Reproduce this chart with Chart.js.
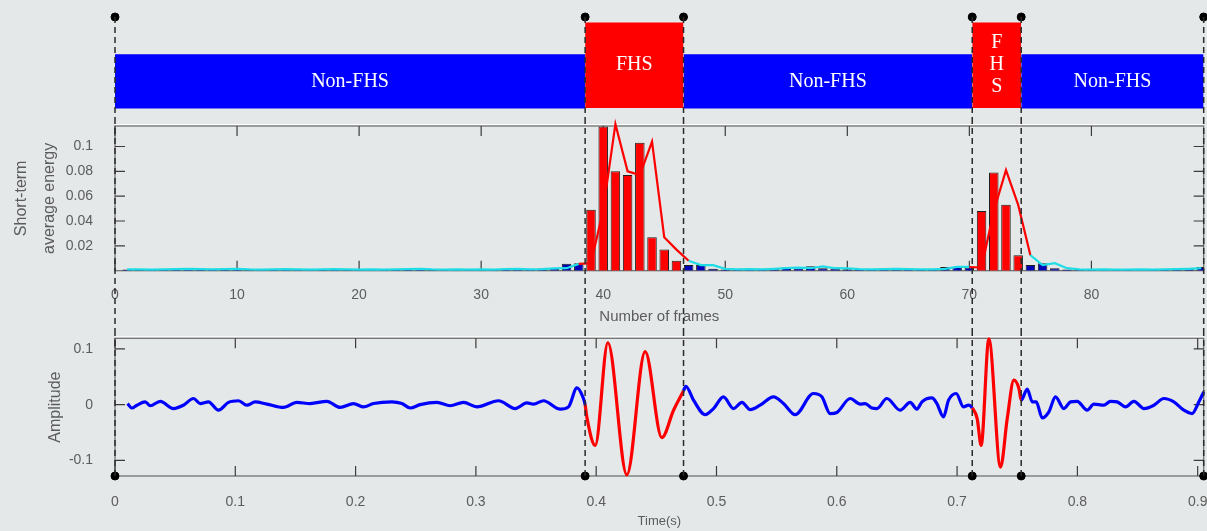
<!DOCTYPE html>
<html>
<head>
<meta charset="utf-8">
<title>FHS segmentation</title>
<script src="https://cdn.jsdelivr.net/npm/chart.js@4.4.1/dist/chart.umd.min.js"></script>
<style>
  html, body { margin: 0; padding: 0; background: #e4e8e8; overflow: hidden; }
  #wrap { position: relative; width: 1207px; height: 531px; overflow: hidden; }
  canvas { position: absolute; left: 0; }
  #segChart { top: 0; }
  #energyChart { top: 118px; }
  #waveChart { top: 330px; }
</style>
</head>
<body>
<div id="wrap">
  <canvas id="segChart" width="1230" height="118"></canvas>
  <canvas id="energyChart" width="1230" height="212"></canvas>
  <canvas id="waveChart" width="1230" height="201"></canvas>
</div>
<script>
// segment boundaries on the time axis (s) and their labels
var boundaries = [0, 0.3908, 0.4726, 0.7126, 0.7533, 0.905];
var segLabels = ["Non-FHS", "FHS", "Non-FHS", ["F", "H", "S"], "Non-FHS"];
var segIsFhs = [false, true, false, true, false];
var nonBand = [0.08, 0.54];   // band heights in the top strip
var fhsBand = [0.085, 0.81];
var dotLevel = 0.856;

// short-term average energy, frames 1..89
var energy = [
  0.001, 0.0008, 0.001, 0.0012, 0.0015, 0.0012, 0.001, 0.0013, 0.0015, 0.001,
  0.0008, 0.001, 0.0012, 0.001, 0.0008, 0.001, 0.0012, 0.001, 0.0009, 0.001,
  0.0008, 0.001, 0.0012, 0.0015, 0.001, 0.0008, 0.001, 0.0009, 0.001, 0.0008,
  0.0012, 0.0015, 0.001, 0.0012, 0.0018, 0.002, 0.0055, 0.006,
  0.049, 0.116, 0.080, 0.077, 0.103, 0.027, 0.017, 0.008,
  0.0045, 0.0045, 0.0015, 0.001, 0.0012, 0.001, 0.0015, 0.002, 0.0025, 0.002,
  0.0035, 0.002, 0.0018, 0.0012, 0.001, 0.0012, 0.0015, 0.0012, 0.001, 0.001,
  0.0015, 0.003, 0.003, 0.0025,
  0.048, 0.079, 0.053, 0.0125,
  0.0045, 0.006, 0.002, 0.001, 0.0008, 0.001, 0.0008, 0.0008, 0.001, 0.0008,
  0.001, 0.0012, 0.0015, 0.002, 0.003
];
// energy envelope line, frames 1..89
var envelope = [
  0.001, 0.001, 0.0008, 0.001, 0.0012, 0.0015, 0.0012, 0.001, 0.0013, 0.0015,
  0.001, 0.0008, 0.001, 0.0012, 0.001, 0.0008, 0.001, 0.0012, 0.001, 0.0009,
  0.001, 0.0008, 0.001, 0.0012, 0.0015, 0.001, 0.0008, 0.001, 0.0009, 0.001,
  0.0008, 0.0012, 0.0015, 0.001, 0.0012, 0.0018, 0.002, 0.0055, 0.006, 0.049,
  0.118, 0.080, 0.077, 0.104, 0.027, 0.017, 0.008, 0.0045, 0.0045, 0.0015,
  0.001, 0.0012, 0.001, 0.0015, 0.002, 0.0025, 0.002, 0.0035, 0.002, 0.0018,
  0.0012, 0.001, 0.0012, 0.0015, 0.0012, 0.001, 0.001, 0.0015, 0.003, 0.003,
  0.0025, 0.048, 0.081, 0.053, 0.0125, 0.0045, 0.006, 0.002, 0.001, 0.0008,
  0.001, 0.0008, 0.0008, 0.001, 0.0008, 0.001, 0.0012, 0.0015, 0.002
];
var fhsFrames = [[39, 46], [71, 74]];
var frameTicks = [0, 10, 20, 30, 40, 50, 60, 70, 80];
var energyTicks = [0.02, 0.04, 0.06, 0.08, 0.1];
var frameMax = 89.2, energyMax = 0.1165;

// waveform samples (time s, amplitude)
var waveTime = [
  0.0104, 0.0140, 0.0182, 0.0251, 0.0293, 0.0376, 0.0486, 0.0569, 0.0653, 0.0708,
  0.0777, 0.0860, 0.0943, 0.1027, 0.1096, 0.1165, 0.1263, 0.1401, 0.1512, 0.1623,
  0.1761, 0.1872, 0.1983, 0.2066, 0.2149, 0.2302, 0.2385, 0.2454, 0.2537, 0.2676,
  0.2786, 0.2897, 0.3008, 0.3188, 0.3327, 0.3424, 0.3479, 0.3562, 0.3701, 0.3770,
  0.3840, 0.3894, 0.3908,
  0.3922, 0.3992, 0.4097, 0.4255, 0.4407, 0.4546, 0.4643, 0.4712, 0.4726,
  0.4745, 0.4809, 0.4906, 0.4975, 0.5058, 0.5141, 0.5211, 0.5280, 0.5363, 0.5474,
  0.5557, 0.5654, 0.5806, 0.5876, 0.5945, 0.6001, 0.6111, 0.6194, 0.6236, 0.6292,
  0.6333, 0.6416, 0.6527, 0.6610, 0.6666, 0.6708, 0.6791, 0.6832, 0.6887, 0.6929,
  0.6993, 0.7053, 0.7095, 0.7126,
  0.7167, 0.7200, 0.7264, 0.7361, 0.7417, 0.7472, 0.7514, 0.7533,
  0.7583, 0.7625, 0.7658, 0.7708, 0.7763, 0.7818, 0.7888, 0.7943, 0.7998, 0.8082,
  0.8137, 0.8220, 0.8275, 0.8331, 0.8400, 0.8470, 0.8553, 0.8636, 0.8719, 0.8802,
  0.8885, 0.8954, 0.9010, 0.9050
];
var waveAmp = [
  0.002, -0.006, -0.001, 0.005, -0.002, 0.006, -0.007, -0.001, 0.011, 0.002,
  0.005, -0.010, 0.004, 0.007, -0.001, 0.005, 0.001, -0.005, 0.004, 0.002,
  0.006, -0.005, 0.002, -0.004, 0.002, 0.005, 0.002, -0.006, 0.000, 0.004,
  -0.002, 0.004, -0.004, 0.007, -0.007, 0.003, 0.001, 0.007, -0.008, -0.004,
  0.030, 0.011, 0.000,
  -0.022, -0.073, 0.111, -0.126, 0.095, -0.059, -0.010, 0.019, 0.025,
  0.033, 0.008, -0.018, -0.007, 0.014, -0.007, 0.004, -0.009, -0.001, 0.014,
  0.002, -0.018, 0.020, 0.014, -0.016, -0.014, 0.011, 0.001, 0.002, -0.006,
  -0.007, 0.011, -0.010, 0.004, -0.008, 0.005, 0.012, 0.002, -0.022, 0.008,
  0.020, -0.004, -0.001, -0.006,
  -0.025, -0.073, 0.118, -0.112, -0.025, 0.044, 0.029, 0.008,
  0.028, 0.005, 0.005, -0.024, -0.013, 0.014, -0.007, 0.005, 0.006, -0.010,
  0.001, -0.001, 0.006, 0.005, -0.004, 0.006, -0.007, -0.001, 0.011, 0.005,
  -0.010, -0.016, 0.005, 0.023
];
var timeTicks = [0, 0.1, 0.2, 0.3, 0.4, 0.5, 0.6, 0.7, 0.8, 0.9];
var ampTicks = [-0.1, 0, 0.1];
var timeMax = 0.905, ampMin = -0.128, ampMax = 0.119;

var RED = "#ff0000", BLUE = "#0000ff", NAVY = "#0000b4", CYAN = "#1fdde6";
var tickFont = { family: "Liberation Sans", size: 14 };
var tickColor = "#5c5c5c";

function inFhsTime(t) {
  for (var i = 0; i < segIsFhs.length; i++) {
    if (segIsFhs[i] && t >= boundaries[i] && t < boundaries[i + 1]) return true;
  }
  return false;
}
function isFhsFrame(f) {
  return fhsFrames.some(function (r) { return f >= r[0] && f <= r[1]; });
}
function fmt(v) { return String(+v.toFixed(3)); }
function setTicks(list) {
  return function (scale) { scale.ticks = list.map(function (v) { return { value: v }; }); };
}
// fixed axis width, no extra room for the end labels
function fixWidth(scale) {
  scale.width = 115;
  scale.paddingTop = 0;
  scale.paddingBottom = 0;
}

// dashed boundary lines, drawn over the data
function boundsPlugin(scaleId, topFn, bottomFn) {
  return {
    id: "bounds",
    afterDatasetsDraw: function (chart) {
      var ctx = chart.ctx, sc = chart.scales[scaleId];
      var top = topFn(chart), bottom = bottomFn(chart);
      ctx.save();
      ctx.strokeStyle = "#2a2a2a";
      ctx.lineWidth = 1.5;
      ctx.setLineDash([6, 4]);
      boundaries.forEach(function (b) {
        var x = sc.getPixelForValue(b);
        ctx.beginPath();
        ctx.moveTo(x, top);
        ctx.lineTo(x, bottom);
        ctx.stroke();
      });
      ctx.restore();
    }
  };
}

// box round the plot with inward ticks, matlab style
var framePlugin = {
  id: "frame",
  beforeDatasetsDraw: function (chart) {
    var a = chart.chartArea, ctx = chart.ctx;
    var xs = chart.scales.x, ys = chart.scales.y;
    ctx.save();
    ctx.strokeStyle = "#ffffff";
    ctx.lineWidth = 1;
    ctx.beginPath();
    ctx.moveTo(a.left, a.top - 1.5);
    ctx.lineTo(a.right, a.top - 1.5);
    ctx.stroke();
    ctx.strokeStyle = "#6a6a6a";
    ctx.lineWidth = 1.2;
    ctx.strokeRect(a.left, a.top, a.right - a.left, a.bottom - a.top);
    ctx.strokeStyle = "#3c3c3c";
    ctx.beginPath();
    xs.ticks.forEach(function (t) {
      var x = xs.getPixelForValue(t.value);
      ctx.moveTo(x, a.top); ctx.lineTo(x, a.top + 10);
      ctx.moveTo(x, a.bottom); ctx.lineTo(x, a.bottom - 10);
    });
    ys.ticks.forEach(function (t) {
      var y = ys.getPixelForValue(t.value);
      ctx.moveTo(a.left, y); ctx.lineTo(a.left + 10, y);
      ctx.moveTo(a.right, y); ctx.lineTo(a.right - 10, y);
    });
    ctx.stroke();
    ctx.restore();
  }
};

var segLabelPlugin = {
  id: "segLabels",
  afterDatasetsDraw: function (chart) {
    var xs = chart.scales.x, ys = chart.scales.y, ctx = chart.ctx;
    ctx.save();
    ctx.fillStyle = "#ffffff";
    ctx.font = '20px "Liberation Serif"';
    ctx.textAlign = "center";
    ctx.textBaseline = "middle";
    segLabels.forEach(function (lab, i) {
      var band = segIsFhs[i] ? fhsBand : nonBand;
      var x = xs.getPixelForValue((boundaries[i] + boundaries[i + 1]) / 2);
      var y = ys.getPixelForValue((band[0] + band[1]) / 2);
      var lines = Array.isArray(lab) ? lab : [lab];
      lines.forEach(function (s, k) {
        ctx.fillText(s, x, y + (k - (lines.length - 1) / 2) * 22);
      });
    });
    ctx.restore();
  }
};

var dotStyle = {
  type: "line", showLine: false, pointRadius: 4, pointBackgroundColor: "#000",
  pointBorderColor: "#000", clip: false, order: 0
};

// top strip: FHS / Non-FHS segments
var segDatasets = segLabels.map(function (lab, i) {
  var band = segIsFhs[i] ? fhsBand : nonBand;
  return {
    type: "line",
    data: [{ x: boundaries[i], y: band[1] }, { x: boundaries[i + 1], y: band[1] }],
    fill: { value: band[0] },
    backgroundColor: segIsFhs[i] ? RED : BLUE,
    borderWidth: 0,
    pointRadius: 0,
    order: segIsFhs[i] ? 1 : 2
  };
});
segDatasets.push(Object.assign({
  data: boundaries.map(function (b) { return { x: b, y: dotLevel }; })
}, dotStyle));

new Chart(document.getElementById("segChart"), {
  type: "line",
  data: { datasets: segDatasets },
  options: {
    responsive: false, animation: false, events: [],
    layout: { autoPadding: false, padding: { left: 115, right: 26.3, top: 0, bottom: 0 } },
    plugins: { legend: { display: false }, tooltip: { enabled: false } },
    scales: {
      x: { type: "linear", min: 0, max: timeMax, display: false },
      y: { type: "linear", min: 0, max: 1, display: false }
    }
  },
  plugins: [
    boundsPlugin("x", function (c) { return c.scales.y.getPixelForValue(dotLevel); },
                      function (c) { return c.height; }),
    segLabelPlugin
  ]
});

// middle: short-term average energy
new Chart(document.getElementById("energyChart"), {
  type: "line",
  data: {
    datasets: [{
      type: "line",
      data: envelope.map(function (v, i) { return { x: i + 1, y: v }; }),
      borderColor: CYAN,
      borderWidth: 2.2,
      pointRadius: 0,
      tension: 0,
      clip: false,
      order: 1,
      segment: {
        borderColor: function (c) {
          var f = c.p0.parsed.x;
          return fhsFrames.some(function (r) { return f >= r[0] - 1 && f <= r[1]; }) ? RED : CYAN;
        }
      }
    }, {
      type: "bar",
      data: energy.map(function (v, i) { return { x: i + 1, y: v }; }),
      backgroundColor: energy.map(function (v, i) { return isFhsFrame(i + 1) ? RED : NAVY; }),
      borderColor: "#1e1e1e",
      borderWidth: 1,
      barPercentage: 0.78,
      categoryPercentage: 1,
      order: 2
    }]
  },
  options: {
    responsive: false, animation: false, events: [],
    layout: { autoPadding: false, padding: { left: 0, right: 26.3, top: 8, bottom: 0 } },
    plugins: { legend: { display: false }, tooltip: { enabled: false } },
    scales: {
      x: {
        type: "linear", min: 0, max: frameMax, offset: false,
        afterBuildTicks: setTicks(frameTicks),
        afterFit: function (s) { s.height = 59.3; },
        grid: { display: false, offset: false }, border: { display: false },
        ticks: { font: tickFont, color: tickColor, padding: 8.5, maxRotation: 0, callback: fmt },
        title: {
          display: true, text: "Number of frames", color: tickColor,
          font: { family: "Liberation Sans", size: 15 }, padding: { top: 0, bottom: 4.3 }
        }
      },
      tx: { type: "linear", min: 0, max: timeMax, offset: false, display: false, position: "bottom" },
      y: {
        type: "linear", min: 0, max: energyMax,
        afterBuildTicks: setTicks(energyTicks),
        afterFit: fixWidth,
        grid: { display: false }, border: { display: false },
        ticks: { font: tickFont, color: tickColor, padding: 14, callback: fmt },
        title: {
          display: true, text: ["Short-term", "average energy"], color: tickColor,
          font: { family: "Liberation Sans", size: 16, lineHeight: 1.75 },
          padding: { top: 8, bottom: 0 }
        }
      }
    }
  },
  plugins: [
    framePlugin,
    boundsPlugin("tx", function () { return 0; }, function (c) { return c.height; })
  ]
});

// bottom: waveform
new Chart(document.getElementById("waveChart"), {
  type: "line",
  data: {
    datasets: [{
      data: waveTime.map(function (t, i) { return { x: t, y: waveAmp[i] }; }),
      borderColor: BLUE,
      borderWidth: 3.2,
      pointRadius: 0,
      cubicInterpolationMode: "monotone",
      clip: false,
      order: 1,
      segment: {
        borderColor: function (c) { return inFhsTime(c.p0.parsed.x) ? RED : BLUE; }
      }
    }, Object.assign({
      data: boundaries.map(function (b) { return { x: b, y: ampMin }; })
    }, dotStyle)]
  },
  options: {
    responsive: false, animation: false, events: [],
    layout: { autoPadding: false, padding: { left: 0, right: 26.3, top: 8.3, bottom: 0 } },
    plugins: { legend: { display: false }, tooltip: { enabled: false } },
    scales: {
      x: {
        type: "linear", min: 0, max: timeMax,
        afterBuildTicks: setTicks(timeTicks),
        afterFit: function (s) { s.height = 55; },
        grid: { display: false }, border: { display: false },
        ticks: { font: tickFont, color: tickColor, padding: 9.5, maxRotation: 0, callback: fmt },
        title: {
          display: true, text: "Time(s)", color: tickColor,
          font: { family: "Liberation Sans", size: 13 }, padding: { top: 0, bottom: 1.7 }
        }
      },
      y: {
        type: "linear", min: ampMin, max: ampMax,
        afterBuildTicks: setTicks(ampTicks),
        afterFit: fixWidth,
        grid: { display: false }, border: { display: false },
        ticks: { font: tickFont, color: tickColor, padding: 14, callback: fmt },
        title: {
          display: true, text: "Amplitude", color: tickColor,
          font: { family: "Liberation Sans", size: 16 }, padding: { top: 46.4, bottom: 0 }
        }
      }
    }
  },
  plugins: [
    framePlugin,
    boundsPlugin("x", function () { return 0; }, function (c) { return c.chartArea.bottom; })
  ]
});
</script>
</body>
</html>
